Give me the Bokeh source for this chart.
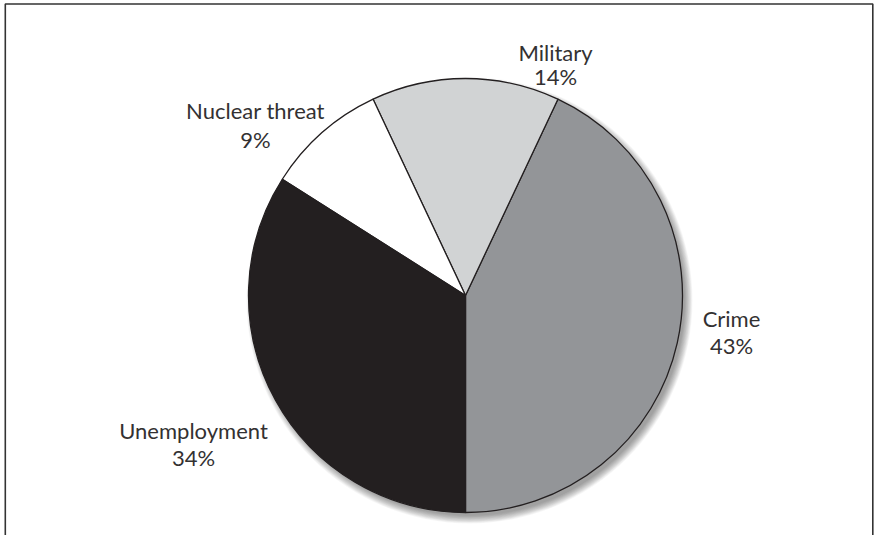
import math
from bokeh.plotting import figure
from bokeh.models import Range1d, ColumnDataSource
from bokeh.core.properties import value
from bokeh.embed import file_html
from bokeh.resources import INLINE

# ---- data ----
categories = ["Crime", "Military", "Nuclear threat", "Unemployment"]
percents = [43, 14, 9, 34]

# ---- style / layout ----
colors = ["#939598", "#d1d3d4", "#ffffff", "#231f20"]
W, H = 874, 535
CX, CY, R = 465, 295, 217          # pie centre / radius in screen px
START_DEG = -90.0                  # slices run anticlockwise from 6 o'clock
TEXT_COLOR = "#333132"
# label anchor (screen px): centre x, baseline of first line, baseline of second line
label_layout = {
    "Crime": (731, 318, 345),
    "Military": (555, 52, 76),
    "Nuclear threat": (255, 110, 139),
    "Unemployment": (193, 430, 457),
}


def sy(y):
    return H - y


p = figure(width=W, height=H, x_range=Range1d(0, W), y_range=Range1d(0, H),
           output_backend="svg", toolbar_location=None, min_border=0,
           x_axis_location=None, y_axis_location=None)
p.grid.visible = False
p.outline_line_color = None
p.background_fill_color = "white"
p.border_fill_color = "white"

# frame
p.quad(left=[4.8], right=[872.3], top=[sy(3.5)], bottom=[-20],
       fill_color=None, line_color="#333333", line_width=1.6)

# soft drop shadow (down / right)
for i in range(12):
    p.circle(x=[CX + 4], y=[sy(CY + 5)], radius=R + 6 - i * 0.7,
             fill_color="#000000", fill_alpha=0.035, line_color=None)

# wedges
total = sum(percents)
starts, ends = [], []
a = START_DEG
for v in percents:
    starts.append(math.radians(a))
    a += 360.0 * v / total
    ends.append(math.radians(a))

src = ColumnDataSource(dict(start=starts, end=ends, color=colors,
                            x=[CX] * len(percents), y=[sy(CY)] * len(percents)))
p.wedge(x="x", y="y", radius=R, start_angle="start", end_angle="end",
        fill_color="color", line_color="#231f20", line_width=1.3, source=src)

# labels
lx, ly1, ly2, t1, t2 = [], [], [], [], []
for c, v in zip(categories, percents):
    x, b1, b2 = label_layout[c]
    lx.append(x)
    ly1.append(sy(b1))
    ly2.append(sy(b2))
    t1.append(c)
    t2.append(f"{v}%")

for ys, ts in ((ly1, t1), (ly2, t2)):
    p.text(x=lx, y=ys, text=ts, text_align="center", text_baseline="alphabetic",
           text_font=value("Lato"), text_font_size="22px", text_color=TEXT_COLOR)

open("out.html", "w").write(file_html(p, INLINE))
